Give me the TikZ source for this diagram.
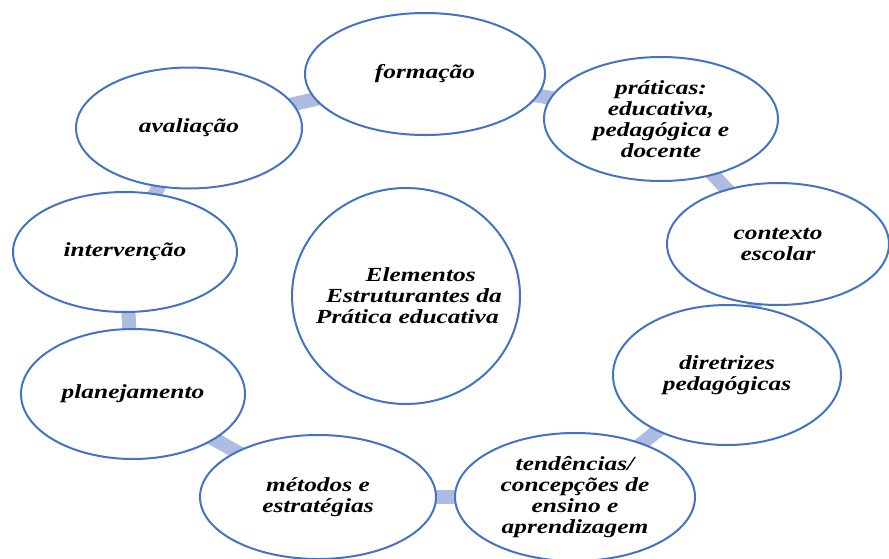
\documentclass[tikz,border=0pt]{standalone}
\usepackage{fontspec}
\setmainfont{Liberation Serif}
\newfontfamily\lblfont[FakeStretch=1.27]{Liberation Serif}
\usepackage{tikz}
\usetikzlibrary{shapes.geometric}
\usetikzlibrary{backgrounds}
\usepackage{xcolor}

\definecolor{ringblue}{HTML}{4472C4}
\definecolor{linkblue}{HTML}{AEBCE2}

\begin{document}
\begin{tikzpicture}[x=0.75pt,y=-0.75pt,
  elem/.style={ellipse, draw=ringblue, line width=1.5pt, fill=white, inner sep=0pt,
    align=center, font=\lblfont\bfseries\itshape\fontsize{15}{15.75}\selectfont},
  link/.style={linkblue, line width=10.5pt}]

\useasboundingbox (0,0) rectangle (889,558);
\clip (0,0) rectangle (889,558);

% centre
\node[elem, inner sep=-30pt, minimum width=171pt, minimum height=162pt] (centro) at (406,296)
  {\hspace*{22pt}Elementos\\\hspace*{12pt}Estruturantes da\\\hspace*{2pt}Prática educativa};

% ring
\node[elem, minimum width=180pt, minimum height=91.5pt] (formacao) at (425,74) {formação};
\node[elem, minimum width=175.5pt, minimum height=93pt] (praticas) at (661,119)
  {práticas:\\educativa,\\pedagógica e\\docente};
\node[elem, minimum width=166.5pt, minimum height=91.5pt] (contexto) at (778,244)
  {contexto\\escolar};
\node[elem, minimum width=171pt, minimum height=105pt] (diretrizes) at (727,375)
  {diretrizes\\pedagógicas};
\node[elem, minimum width=180pt, minimum height=96pt] (tendencias) at (575,497)
  {tendências/\\concepções de\\ensino e\\aprendizagem};
\node[elem, minimum width=177pt, minimum height=93pt] (metodos) at (318,497)
  {métodos e\\estratégias};
\node[elem, minimum width=168pt, minimum height=97.5pt] (planejamento) at (133,394)
  {planejamento};
\node[elem, minimum width=168pt, minimum height=90pt] (intervencao) at (125,252)
  {intervenção};
\node[elem, minimum width=169.5pt, minimum height=90.75pt] (avaliacao) at (189,128)
  {avaliação};

%links behind the ellipses
\begin{scope}[on background layer]
\draw[link] (formacao.center) -- (praticas.center);
\draw[link] (praticas.center) -- (contexto.center);
\draw[link] (contexto.center) -- (diretrizes.center);
\draw[link] (diretrizes.center) -- (tendencias.center);
\draw[link] (tendencias.center) -- (metodos.center);
\draw[link] (metodos.center) -- (planejamento.center);
\draw[link] (planejamento.center) -- (intervencao.center);
\draw[link] (intervencao.center) -- (avaliacao.center);
\draw[link] (avaliacao.center) -- (formacao.center);
\end{scope}

\end{tikzpicture}
\end{document}
